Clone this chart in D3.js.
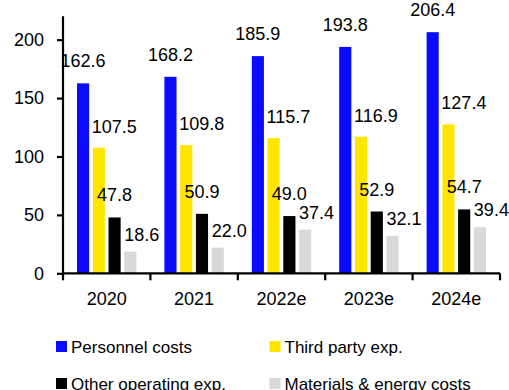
<!DOCTYPE html>
<html>
<head>
<meta charset="utf-8">
<script src="https://cdn.jsdelivr.net/npm/d3@7"></script>
<style>
  html, body { margin: 0; padding: 0; background: #fff; }
  svg text { font-family: "Liberation Sans", Arial, sans-serif; fill: #000; }
</style>
</head>
<body>
<svg id="chart" width="509" height="390"></svg>
<script>
// Cost breakdown by year
const years = ["2020", "2021", "2022e", "2023e", "2024e"];
const seriesNames = ["Personnel costs", "Third party exp.", "Other operating exp.", "Materials & energy costs"];
const personnel = [162.6, 168.2, 185.9, 193.8, 206.4];
const thirdParty = [107.5, 109.8, 115.7, 116.9, 127.4];
const otherOperating = [47.8, 50.9, 49.0, 52.9, 54.7];
const materials = [18.6, 22.0, 37.4, 32.1, 39.4];
const yTicks = [0, 50, 100, 150, 200];

const colors = ["#0a0aff", "#ffe600", "#000000", "#d9d9d9"];
const seriesValues = [personnel, thirdParty, otherOperating, materials];
// label placement per series: anchor on bar centre or bar left edge, lift above bar top
const labelStyle = [
  { anchor: "middle", dx: 0, lift: 16 },
  { anchor: "start", dx: -1, lift: 15 },
  { anchor: "middle", dx: 0, lift: 16 },
  { anchor: "start", dx: 0, lift: 11 }
];

const svg = d3.select("#chart");
const plotLeft = 63, plotRight = 500, plotTop = 16.3, plotBottom = 273.3;

const x = d3.scaleBand().domain(years).range([plotLeft, plotRight]).paddingInner(0).paddingOuter(0);
const xs = d3.scaleBand().domain(d3.range(seriesNames.length))
  .range([14, x.bandwidth() - 14]).paddingInner(0.23).paddingOuter(0);
const y = d3.scaleLinear().domain([0, 220]).range([plotBottom, plotTop]);

const rows = [];
seriesValues.forEach((vals, s) => vals.forEach((v, i) => rows.push({ s, year: years[i], v })));

// bars
svg.append("g").selectAll("rect").data(rows).join("rect")
  .attr("x", d => x(d.year) + xs(d.s))
  .attr("width", xs.bandwidth())
  .attr("y", d => y(d.v))
  .attr("height", d => y(0) - y(d.v))
  .attr("fill", d => colors[d.s]);

// value labels
svg.append("g").selectAll("text").data(rows).join("text")
  .attr("x", d => {
    const st = labelStyle[d.s];
    const bx = x(d.year) + xs(d.s);
    return (st.anchor === "middle" ? bx + xs.bandwidth() / 2 : bx) + st.dx;
  })
  .attr("y", d => y(d.v) - labelStyle[d.s].lift)
  .attr("text-anchor", d => labelStyle[d.s].anchor)
  .style("font-size", "18px")
  .text(d => d.v.toFixed(1));

// y axis
const yAxis = svg.append("g").attr("transform", `translate(${plotLeft},0)`)
  .call(d3.axisLeft(y).tickValues(yTicks).tickSize(6).tickSizeOuter(0).tickPadding(13));
yAxis.select(".domain").attr("d", `M0,${plotTop}V${plotBottom + 3}`);
yAxis.selectAll("line, .domain").attr("stroke", "#000").attr("stroke-width", 2.2);
yAxis.selectAll("text").style("font-size", "18px");

// x axis with ticks between categories
const xAxis = svg.append("g").attr("transform", `translate(0,${plotBottom})`);
xAxis.append("path").attr("d", `M${plotLeft},0H${plotRight}`).attr("stroke", "#000").attr("stroke-width", 2.2);
const boundaries = years.map(yr => x(yr)).concat([x(years[years.length - 1]) + x.bandwidth()]);
xAxis.selectAll("line.tick").data(boundaries).join("line")
  .attr("class", "tick")
  .attr("x1", d => d).attr("x2", d => d)
  .attr("y1", 0).attr("y2", 7)
  .attr("stroke", "#000").attr("stroke-width", 2.2);
xAxis.selectAll("text").data(years).join("text")
  .attr("x", d => x(d) + x.bandwidth() / 2)
  .attr("y", 32)
  .attr("text-anchor", "middle")
  .style("font-size", "18px")
  .text(d => d);

// legend, two columns
const legend = svg.append("g");
const lx = [56, 269.5], ly = [341, 378];
const items = legend.selectAll("g").data(seriesNames).join("g")
  .attr("transform", (d, i) => `translate(${lx[i % 2]},${ly[Math.floor(i / 2)]})`);
items.append("rect").attr("width", 11).attr("height", 11).attr("fill", (d, i) => colors[i]);
items.append("text").attr("x", 15).attr("y", 11.5).style("font-size", "17px").text(d => d);
</script>
</body>
</html>
